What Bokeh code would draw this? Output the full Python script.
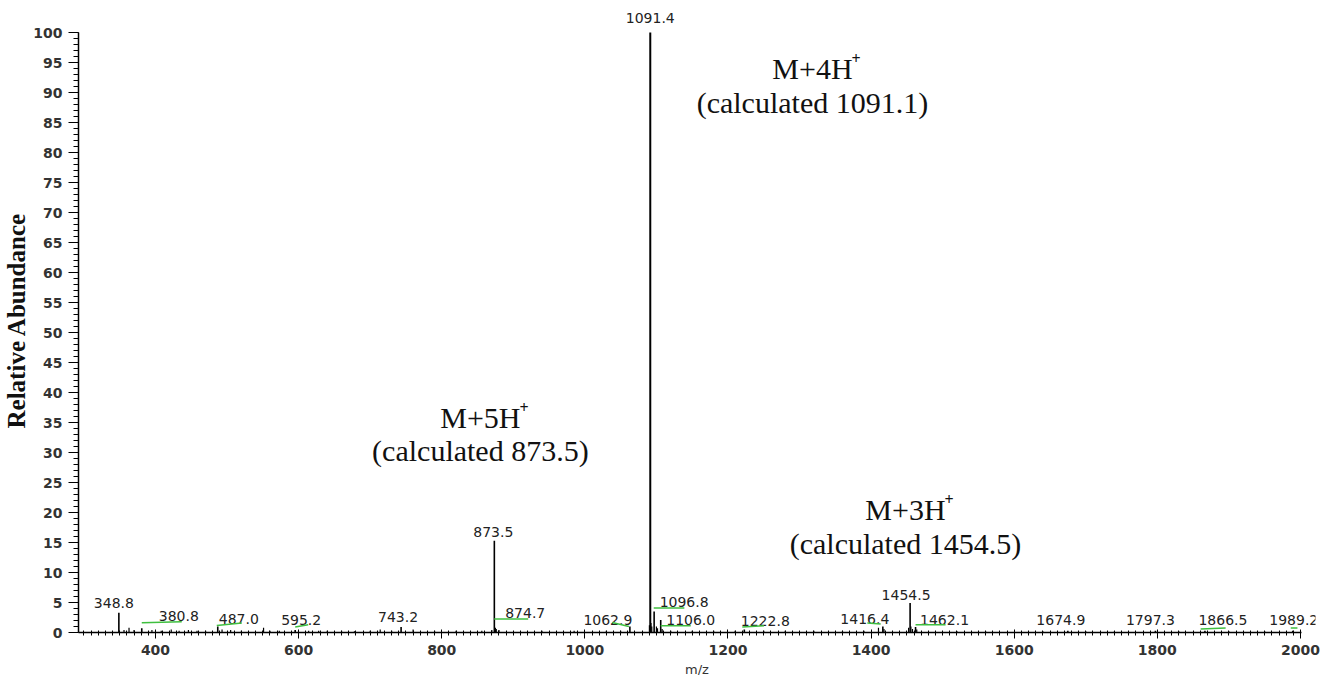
import numpy as np
from bokeh.plotting import figure
from bokeh.models import Range1d, FixedTicker, ColumnDataSource
from bokeh.embed import file_html
from bokeh.resources import INLINE
from bokeh.core.properties import value

# ---- spectrum data -------------------------------------------------------
# labelled centroid peaks (m/z, relative abundance %)
labelled_mz = [348.8, 380.8, 487.0, 595.2, 743.2, 873.5, 874.7, 1062.9, 1091.4,
               1096.8, 1106.0, 1222.8, 1416.4, 1454.5, 1462.1, 1674.9, 1797.3,
               1866.5, 1989.2]
labelled_abund = [3.3, 0.7, 1.0, 0.4, 0.9, 15.3, 0.8, 1.0, 100.0,
                  3.5, 2.1, 0.5, 1.0, 4.9, 0.9, 0.3, 0.3,
                  0.3, 0.3]

# unlabelled minor peaks along the baseline
minor_mz = [356.0, 363.0, 370.0, 395.0, 408.0, 422.0, 433.0, 446.0, 458.0, 470.0,
            493.0, 505.0, 520.0, 551.0, 560.0, 573.0, 614.0, 628.0, 640.0, 660.0,
            678.0, 700.0, 714.0, 730.0, 760.0, 790.0, 820.0, 856.0, 870.0, 876.2,
            880.0, 940.0, 985.0, 1030.0, 1050.0, 1090.2, 1092.4, 1093.5, 1100.0,
            1101.5, 1108.0, 1120.0, 1150.0, 1180.0, 1210.0, 1250.0, 1280.0, 1320.0,
            1360.0, 1390.0, 1410.3, 1418.0, 1452.4, 1455.6, 1457.8, 1463.8, 1520.0,
            1560.0, 1640.0, 1700.0, 1740.0, 1830.0, 1900.0, 1950.0]
minor_abund = [0.4, 0.8, 0.4, 0.4, 0.3, 0.5, 0.3, 0.4, 0.3, 0.3,
               0.5, 0.4, 0.3, 0.8, 0.3, 0.3, 0.3, 0.3, 0.3, 0.3,
               0.2, 0.3, 0.5, 0.3, 0.5, 0.3, 0.3, 0.3, 0.4, 0.6,
               0.4, 0.3, 0.3, 0.3, 0.3, 1.2, 1.6, 1.0, 1.0,
               0.7, 0.6, 0.3, 0.3, 0.3, 0.3, 0.3, 0.3, 0.3,
               0.3, 0.3, 0.8, 0.6, 0.8, 1.0, 0.6, 0.5, 0.2,
               0.2, 0.2, 0.2, 0.2, 0.2, 0.2, 0.2]

# charge-state annotations: (ion, calculated m/z)
ion_names = ["M+5H", "M+4H", "M+3H"]
ion_calc = ["873.5", "1091.1", "1454.5"]

y_ticks = list(range(0, 101, 5))
x_ticks = [400, 600, 800, 1000, 1200, 1400, 1600, 1800, 2000]

# ---- layout --------------------------------------------------------------
X0, X1 = 292.4, 2021.0
Y0, Y1 = 0.0, 104.0
FW, FH = 1237, 624
sx = FW / (X1 - X0)      # px per m/z unit
sy = FH / (Y1 - Y0)      # px per % unit

p = figure(width=1326, height=685, frame_width=FW, frame_height=FH,
           min_border_left=78, min_border_right=11, min_border_top=8,
           min_border_bottom=53, x_range=Range1d(X0, X1), y_range=Range1d(Y0, Y1),
           output_backend="svg", toolbar_location=None)
p.outline_line_color = None
p.grid.visible = False
p.background_fill_color = "white"
p.border_fill_color = "white"

tick_font = "DejaVu Sans"

p.xaxis.ticker = FixedTicker(ticks=x_ticks, minor_ticks=list(range(300, 2001, 10)))
p.xaxis.bounds = (X0, 2002)
p.xaxis.axis_label = "m/z"
p.xaxis.axis_label_text_font = tick_font
p.xaxis.axis_label_text_font_style = "normal"
p.xaxis.axis_label_text_font_size = "13px"
p.xaxis.axis_label_text_color = "#333333"
p.xaxis.axis_label_standoff = 4
p.xaxis.major_label_text_font = tick_font
p.xaxis.major_label_text_font_style = "bold"
p.xaxis.major_label_text_font_size = "14px"
p.xaxis.major_label_text_color = "#333333"
p.xaxis.major_label_standoff = 6
p.xaxis.major_tick_out = 6
p.xaxis.major_tick_in = 3
p.xaxis.minor_tick_out = 3
p.xaxis.minor_tick_in = 2
p.xaxis.axis_line_width = 1.5

p.yaxis.ticker = FixedTicker(ticks=y_ticks, minor_ticks=list(range(0, 101)))
p.yaxis.bounds = (0, 100)
p.yaxis.axis_label = "Relative Abundance"
p.yaxis.axis_label_text_font = "Liberation Serif"
p.yaxis.axis_label_text_font_style = "bold"
p.yaxis.axis_label_text_font_size = "25px"
p.yaxis.axis_label_text_color = "#111111"
p.yaxis.axis_label_standoff = 0
p.yaxis.major_label_text_font = tick_font
p.yaxis.major_label_text_font_style = "bold"
p.yaxis.major_label_text_font_size = "14px"
p.yaxis.major_label_text_color = "#333333"
p.yaxis.major_label_standoff = 6
p.yaxis.major_tick_out = 10
p.yaxis.major_tick_in = 0
p.yaxis.minor_tick_out = 5
p.yaxis.minor_tick_in = 0
p.yaxis.axis_line_width = 1.5

# ---- peaks (stick spectrum) ----------------------------------------------
p.segment(x0=minor_mz, y0=[0] * len(minor_mz), x1=minor_mz, y1=minor_abund,
          line_color="black", line_width=1.2)
p.segment(x0=labelled_mz, y0=[0] * len(labelled_mz), x1=labelled_mz,
          y1=labelled_abund, line_color="black",
          line_width=[2.0 if a >= 50 else 1.6 for a in labelled_abund])

# ---- peak labels ---------------------------------------------------------
# pixel offset of each label centre from the top of its peak
label_dx = [-5, 37, 21, 6, -3, -1, 30, -22, 0, 30, 30, 21, -18, -4, 29, -7, -5, 18, 1]
label_dy = [-10, -12, -8, -10, -10, -9, -15, -7, -15, -10, 0, -9, -8, -8, -7, -11, -11, -11, -11]

lab = ColumnDataSource(dict(
    x=labelled_mz, y=labelled_abund,
    text=["%.1f" % m for m in labelled_mz],
    dx=label_dx, dy=label_dy))
p.text(x="x", y="y", text="text", x_offset="dx", y_offset="dy", source=lab,
       text_font=value(tick_font), text_font_size="14px", text_color="#222222",
       text_align="center", text_baseline="middle")

# green leader lines joining shifted labels to their peaks
# (peak index, px start, px end, px above baseline at start, at end)
leaders = [(1, 0, 40, 9.7, 10.7), (2, -1, 24, 7.0, 9.4), (3, 0, 13, 5.4, 7.7),
           (6, -1, 33, 13.4, 13.4), (7, -17.6, -1, 10.0, 6.0),
           (9, -0.4, 30.2, 24.4, 24.4), (10, 0, 30, 6.7, 6.7),
           (11, -2, 19.6, 5.4, 6.7), (12, -15.5, -2.2, 9.4, 8.4),
           (14, 0, 30, 7.7, 7.7), (17, -4.3, 20.7, 3.4, 4.4), (18, -2, 4.7, 4.4, 4.4)]
gx0 = [labelled_mz[i] + a / sx for i, a, b, c, d in leaders]
gx1 = [labelled_mz[i] + b / sx for i, a, b, c, d in leaders]
gy0 = [c / sy for i, a, b, c, d in leaders]
gy1 = [d / sy for i, a, b, c, d in leaders]
p.segment(x0=gx0, y0=gy0, x1=gx1, y1=gy1, line_color="#3fbf3f", line_width=1.5)

# ---- charge-state annotations --------------------------------------------
ann_x = [854, 1318, 1448]
ann_y = [35.9, 94.0, 20.5]
ann_gap = 5.6
serif = value("Liberation Serif")
p.text(x=ann_x, y=ann_y, text=ion_names, text_font=serif, text_font_size="30px",
       text_color="#111111", text_align="center", text_baseline="middle")
p.text(x=ann_x, y=ann_y, text=["+"] * 3, x_offset=39, y_offset=-10,
       text_font=serif, text_font_size="16px", text_font_style="bold",
       text_color="#111111", text_align="left", text_baseline="middle")
p.text(x=ann_x, y=[v - ann_gap for v in ann_y],
       text=["(calculated %s)" % c for c in ion_calc], text_font=serif,
       text_font_size="30px", text_color="#111111", text_align="center",
       text_baseline="middle")

open("out.html", "w").write(file_html(p, INLINE))
